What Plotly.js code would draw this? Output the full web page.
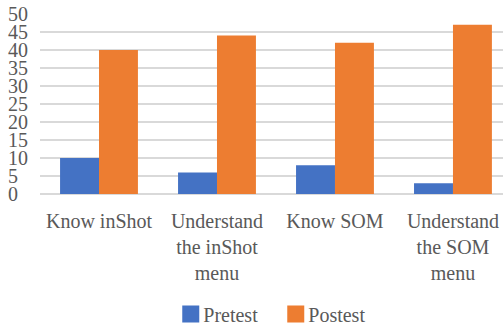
<!DOCTYPE html>
<html>
<head>
<meta charset="utf-8">
<script src="https://cdn.plot.ly/plotly-3.0.1.min.js"></script>
<style>
  html, body { margin: 0; padding: 0; background: #fff; }
  #chart { width: 503px; height: 326px; }
</style>
</head>
<body>
<div id="chart"></div>
<script>
// Survey items (category labels, wrapped onto lines)
const categories = [
  "Know inShot",
  "Understand<br>the inShot<br>menu",
  "Know SOM",
  "Understand<br>the SOM<br>menu"
];
const seriesNames = ["Pretest", "Postest"];
const pretest = [10, 6, 8, 3];
const postest = [40, 44, 42, 47];
const yTickVals = [0, 5, 10, 15, 20, 25, 30, 35, 40, 45, 50];

const textColor = "#595959";
const gridColor = "#d9d9d9";
const fontFamily = "Liberation Serif, Times New Roman, serif";

// Single-digit labels get a trailing figure space so all labels line up on the left
const yTickText = yTickVals.map(v => v < 10 ? v + "\u2007" : String(v));

const traces = [
  { type: "bar", name: seriesNames[0], x: [0, 1, 2, 3], y: pretest,
    marker: { color: "#4472C4" } },
  { type: "bar", name: seriesNames[1], x: [0, 1, 2, 3], y: postest,
    marker: { color: "#ED7D31" } }
];

const layout = {
  width: 503,
  height: 326,
  margin: { l: 40, r: 0, t: 14, b: 132 },
  paper_bgcolor: "#fff",
  plot_bgcolor: "#fff",
  barmode: "group",
  bargap: 0.34,
  bargroupgap: 0,
  font: { family: fontFamily, size: 20, color: textColor },
  xaxis: {
    tickmode: "array",
    tickvals: [0, 1, 2, 3],
    ticktext: categories,
    range: [-0.5, 3.424],
    showgrid: false,
    zeroline: false,
    showline: false,
    ticks: "",
    ticklabelstandoff: 13,
    tickfont: { family: fontFamily, size: 20, color: textColor },
    fixedrange: true
  },
  yaxis: {
    range: [0, 50],
    tickmode: "array",
    tickvals: yTickVals,
    ticktext: yTickText,
    showgrid: true,
    gridcolor: gridColor,
    gridwidth: 1.5,
    zeroline: true,
    zerolinecolor: gridColor,
    zerolinewidth: 1.5,
    showline: false,
    ticks: "",
    ticklabelstandoff: 11,
    tickfont: { family: fontFamily, size: 20, color: textColor },
    fixedrange: true
  },
  showlegend: true,
  legend: {
    orientation: "h",
    xref: "paper",
    x: 0.493,
    xanchor: "center",
    yref: "container",
    y: 1 - 314 / 326,
    yanchor: "middle",
    font: { family: fontFamily, size: 20, color: textColor },
    itemwidth: 30,
    entrywidth: 60,
    traceorder: "normal"
  }
};

Plotly.newPlot("chart", traces, layout, { displayModeBar: false, staticPlot: true })
  .then(gd => {
    // Larger square legend swatches, sitting close to their labels
    gd.querySelectorAll(".legendpoints path").forEach(p => {
      p.setAttribute("d", "M-1,8.5H16V-8.5H-1Z");
    });
  });
</script>
</body>
</html>
